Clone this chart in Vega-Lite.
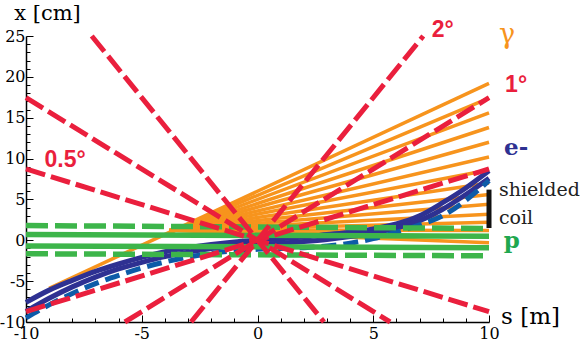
{
  "$schema": "https://vega.github.io/schema/vega-lite/v6.json",
  "width": 463,
  "height": 286,
  "autosize": "none",
  "padding": {"left": 26, "top": 36, "right": 92, "bottom": 20},
  "background": "white",
  "config": {"view": {"stroke": null}},
  "datasets": {
    "orange": [
      {"id": 1, "s": -9.0, "x": -5.88}, {"id": 1, "s": 10, "x": 19.2},
      {"id": 2, "s": -3.8, "x": 0.98}, {"id": 2, "s": 10, "x": 17.4},
      {"id": 3, "s": -3.8, "x": 0.97}, {"id": 3, "s": 10, "x": 15.6},
      {"id": 4, "s": -3.8, "x": 0.97}, {"id": 4, "s": 10, "x": 13.8},
      {"id": 5, "s": -3.8, "x": 1.03}, {"id": 5, "s": 10, "x": 12.0},
      {"id": 6, "s": -3.8, "x": 1.09}, {"id": 6, "s": 10, "x": 10.2},
      {"id": 7, "s": -3.8, "x": 1.15}, {"id": 7, "s": 10, "x": 8.6},
      {"id": 8, "s": -3.8, "x": 1.2}, {"id": 8, "s": 10, "x": 7.0},
      {"id": 9, "s": -3.8, "x": 1.18}, {"id": 9, "s": 10, "x": 5.6},
      {"id": 10, "s": -3.8, "x": 1.16}, {"id": 10, "s": 10, "x": 4.4},
      {"id": 11, "s": -3.8, "x": 1.2}, {"id": 11, "s": 10, "x": 3.2},
      {"id": 12, "s": -3.8, "x": 1.23}, {"id": 12, "s": 10, "x": 2.2},
      {"id": 13, "s": -3.8, "x": 1.27}, {"id": 13, "s": 10, "x": 1.2},
      {"id": 14, "s": -3.8, "x": 1.23}, {"id": 14, "s": 10, "x": 0.4},
      {"id": 15, "s": -3.8, "x": 1.22}, {"id": 15, "s": 10, "x": -0.3}
    ],
    "navy": [
      {"id": "n1", "s": -10, "x": -7.6}, {"id": "n1", "s": -9, "x": -6.1}, {"id": "n1", "s": -8, "x": -4.9},
      {"id": "n1", "s": -7, "x": -3.8}, {"id": "n1", "s": -6, "x": -2.9}, {"id": "n1", "s": -5, "x": -2.1},
      {"id": "n1", "s": -4, "x": -1.4}, {"id": "n1", "s": -3, "x": -0.9}, {"id": "n1", "s": -2, "x": -0.5},
      {"id": "n1", "s": -1, "x": -0.2}, {"id": "n1", "s": 0, "x": 0.0}, {"id": "n1", "s": 1, "x": 0.2},
      {"id": "n1", "s": 2, "x": 0.4}, {"id": "n1", "s": 3, "x": 0.7}, {"id": "n1", "s": 4, "x": 1.0},
      {"id": "n1", "s": 5, "x": 1.4}, {"id": "n1", "s": 6, "x": 2.0}, {"id": "n1", "s": 7, "x": 3.0},
      {"id": "n1", "s": 8, "x": 4.6}, {"id": "n1", "s": 9, "x": 6.4}, {"id": "n1", "s": 10, "x": 8.5},
      {"id": "n2", "s": -10, "x": -8.7}, {"id": "n2", "s": -9, "x": -7.1}, {"id": "n2", "s": -8, "x": -5.7},
      {"id": "n2", "s": -7, "x": -4.5}, {"id": "n2", "s": -6, "x": -3.5}, {"id": "n2", "s": -5, "x": -2.7},
      {"id": "n2", "s": -4, "x": -2.0}, {"id": "n2", "s": -3, "x": -1.45}, {"id": "n2", "s": -2, "x": -1.0},
      {"id": "n2", "s": -1, "x": -0.7}, {"id": "n2", "s": 0, "x": -0.5}, {"id": "n2", "s": 1, "x": -0.35},
      {"id": "n2", "s": 2, "x": -0.15}, {"id": "n2", "s": 3, "x": 0.1}, {"id": "n2", "s": 4, "x": 0.45},
      {"id": "n2", "s": 5, "x": 0.9}, {"id": "n2", "s": 6, "x": 1.5}, {"id": "n2", "s": 7, "x": 2.4},
      {"id": "n2", "s": 8, "x": 3.8}, {"id": "n2", "s": 9, "x": 5.6}, {"id": "n2", "s": 10, "x": 7.6}
    ],
    "bluedash": [
      {"s": -10, "x": -9.5}, {"s": -9, "x": -7.9}, {"s": -8, "x": -6.5}, {"s": -7, "x": -5.3},
      {"s": -6, "x": -4.3}, {"s": -5, "x": -3.4}, {"s": -4, "x": -2.65}, {"s": -3, "x": -2.05},
      {"s": -2, "x": -1.6}, {"s": -1, "x": -1.3}, {"s": 0, "x": -1.1}, {"s": 1, "x": -1.0},
      {"s": 2, "x": -0.9}, {"s": 3, "x": -0.7}, {"s": 4, "x": -0.35}, {"s": 5, "x": 0.2},
      {"s": 6, "x": 1.0}, {"s": 7, "x": 1.9}, {"s": 8, "x": 3.0}, {"s": 9, "x": 4.9}, {"s": 10, "x": 7.3}
    ],
    "greensolid": [
      {"id": "a", "s": -10, "x": 0.7}, {"id": "a", "s": 10, "x": 0.5},
      {"id": "b", "s": -10, "x": -0.7}, {"id": "b", "s": 10, "x": -0.9}
    ],
    "greendash": [
      {"id": "c", "s": -10, "x": 1.8}, {"id": "c", "s": 10, "x": 1.45},
      {"id": "d", "s": -10, "x": -1.65}, {"id": "d", "s": 10, "x": -1.9}
    ],
    "red": [
      {"id": "r1", "s": -10, "x": -8.73}, {"id": "r1", "s": 10, "x": 8.73},
      {"id": "r2", "s": -10, "x": 8.73}, {"id": "r2", "s": 10, "x": -8.73},
      {"id": "r3", "s": -5.73, "x": -10}, {"id": "r3", "s": 10, "x": 17.45},
      {"id": "r4", "s": -10, "x": 17.45}, {"id": "r4", "s": 5.73, "x": -10},
      {"id": "r5", "s": -2.87, "x": -10}, {"id": "r5", "s": 7.16, "x": 25},
      {"id": "r6", "s": -7.16, "x": 25}, {"id": "r6", "s": 2.87, "x": -10}
    ],
    "coil": [{"s": 10.0, "x": 6.2, "x2": 1.5}],
    "redlabels": [
      {"label": "2°", "s": 8.0, "x": 24.85},
      {"label": "1°", "s": 11.17, "x": 18.1},
      {"label": "0.5°", "s": -8.31, "x": 8.93}
    ],
    "gammalabel": [{"label": "γ", "s": 10.78, "x": 24.1}],
    "elabel": [{"label": "e-", "s": 11.17, "x": 10.4}],
    "plabel": [{"label": "p", "s": 10.99, "x": -0.98}],
    "coillabels": [
      {"label": "shielded", "s": 10.43, "x": 5.39},
      {"label": "coil", "s": 10.43, "x": 1.96}
    ]
  },
  "encoding": {
    "x": {
      "field": "s", "type": "quantitative",
      "scale": {"domain": [-10, 10], "nice": false, "zero": false},
      "axis": {
        "values": [-10, -9, -8, -7, -6, -5, -4, -3, -2, -1, 0, 1, 2, 3, 4, 5, 6, 7, 8, 9, 10],
        "labelExpr": "datum.value % 5 === 0 ? '' + datum.value : ''",
        "grid": false,
        "domainColor": "black", "domainWidth": 1.5,
        "tickColor": "black", "tickWidth": 1,
        "tickSize": {"condition": {"test": "datum.value % 5 === 0", "value": -7}, "value": -4},
        "labelFont": "DejaVu Serif", "labelFontSize": 16, "labelColor": "black",
        "labelPadding": 10, "labelFlush": false, "labelOverlap": false,
        "title": "s [m]", "titleFont": "DejaVu Serif", "titleFontSize": 23,
        "titleFontWeight": "normal", "titleColor": "black",
        "titleX": 504, "titleY": 1, "titleAlign": "center", "titleBaseline": "alphabetic"
      }
    },
    "y": {
      "field": "x", "type": "quantitative",
      "scale": {"domain": [-10, 25], "nice": false, "zero": false},
      "axis": {
        "values": [-10, -9, -8, -7, -6, -5, -4, -3, -2, -1, 0, 1, 2, 3, 4, 5, 6, 7, 8, 9, 10, 11, 12, 13, 14, 15, 16, 17, 18, 19, 20, 21, 22, 23, 24, 25],
        "labelExpr": "datum.value % 5 === 0 ? '' + datum.value : ''",
        "grid": false,
        "domainColor": "black", "domainWidth": 1.5,
        "tickColor": "black", "tickWidth": 1,
        "tickSize": {"condition": {"test": "datum.value % 5 === 0", "value": -7}, "value": -4},
        "labelFont": "DejaVu Serif", "labelFontSize": 16, "labelColor": "black",
        "labelPadding": 8, "labelFlush": false, "labelOverlap": false,
        "title": "x [cm]", "titleFont": "DejaVu Serif", "titleFontSize": 21,
        "titleFontWeight": "normal", "titleColor": "black", "titleAngle": 0,
        "titleX": 21, "titleY": -17, "titleAlign": "center", "titleBaseline": "alphabetic"
      }
    }
  },
  "layer": [
    {
      "data": {"name": "orange"},
      "mark": {"type": "line", "color": "#F7941D", "strokeWidth": 3.5, "strokeCap": "butt"},
      "encoding": {"detail": {"field": "id"}}
    },
    {
      "data": {"name": "navy"},
      "mark": {"type": "line", "color": "#2E3192", "strokeWidth": 5, "interpolate": "monotone"},
      "encoding": {"detail": {"field": "id"}}
    },
    {
      "data": {"name": "bluedash"},
      "mark": {"type": "line", "color": "#0D5BA8", "strokeWidth": 5, "strokeDash": [15, 7], "interpolate": "monotone"},
      "encoding": {}
    },
    {
      "data": {"name": "greensolid"},
      "mark": {"type": "line", "color": "#3DB54A", "strokeWidth": 5.5},
      "encoding": {"detail": {"field": "id"}}
    },
    {
      "data": {"name": "greendash"},
      "mark": {"type": "line", "color": "#3DB54A", "strokeWidth": 5.5, "strokeDash": [22, 7]},
      "encoding": {"detail": {"field": "id"}}
    },
    {
      "data": {"name": "red"},
      "mark": {"type": "line", "color": "#EA1F3D", "strokeWidth": 5, "strokeDash": [20, 6]},
      "encoding": {"detail": {"field": "id"}}
    },
    {
      "data": {"name": "coil"},
      "mark": {"type": "rule", "color": "#111111", "strokeWidth": 5},
      "encoding": {"y2": {"field": "x2"}}
    },
    {
      "data": {"name": "redlabels"},
      "mark": {"type": "text", "color": "#EA1F3D", "font": "Liberation Sans", "fontWeight": "bold", "fontSize": 23, "align": "center", "baseline": "alphabetic"},
      "encoding": {"text": {"field": "label"}}
    },
    {
      "data": {"name": "gammalabel"},
      "mark": {"type": "text", "color": "#F7941D", "font": "DejaVu Serif", "fontSize": 27, "align": "center", "baseline": "alphabetic"},
      "encoding": {"text": {"field": "label"}}
    },
    {
      "data": {"name": "elabel"},
      "mark": {"type": "text", "color": "#2E3192", "font": "DejaVu Serif", "fontWeight": "bold", "fontSize": 23, "align": "center", "baseline": "alphabetic"},
      "encoding": {"text": {"field": "label"}}
    },
    {
      "data": {"name": "plabel"},
      "mark": {"type": "text", "color": "#1FA84F", "font": "DejaVu Serif", "fontWeight": "bold", "fontSize": 23, "align": "center", "baseline": "alphabetic"},
      "encoding": {"text": {"field": "label"}}
    },
    {
      "data": {"name": "coillabels"},
      "mark": {"type": "text", "color": "#222222", "font": "DejaVu Serif", "fontSize": 19, "align": "left", "baseline": "alphabetic"},
      "encoding": {"text": {"field": "label"}}
    }
  ]
}
